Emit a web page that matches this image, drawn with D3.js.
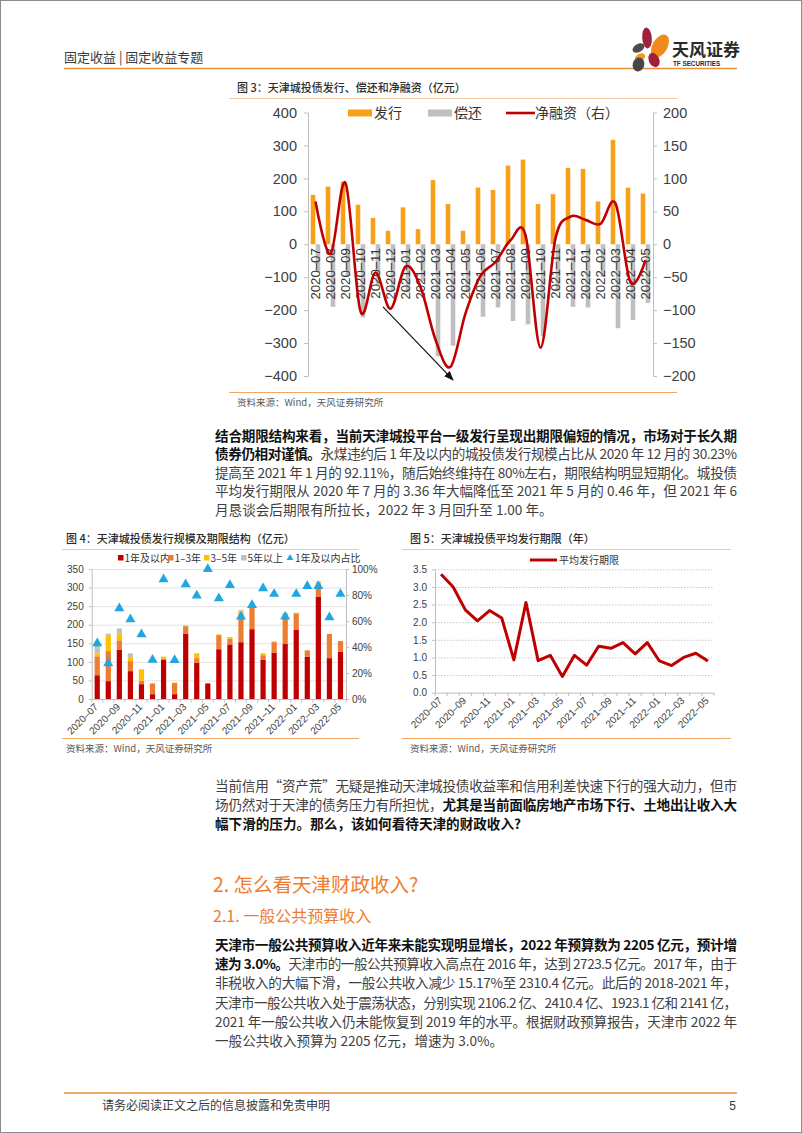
<!DOCTYPE html>
<html><head><meta charset="utf-8">
<script src="https://cdn.jsdelivr.net/npm/d3@7"></script>
<style>
html,body{margin:0;padding:0;background:#fff;}
svg{display:block;}
</style></head><body>
<svg id="page" width="802" height="1133"></svg>
<script>
// ---------------- DATA ----------------
const months = ["2020-07","2020-08","2020-09","2020-10","2020-11","2020-12","2021-01","2021-02","2021-03","2021-04","2021-05","2021-06","2021-07","2021-08","2021-09","2021-10","2021-11","2021-12","2022-01","2022-02","2022-03","2022-04","2022-05"];
// Fig 3 (亿元)
const issuance   = [150,175,190,120,80,41,112,46,195,122,41,172,165,239,257,122,152,232,229,130,317,172,154];
const repayment  = [85,190,97,222,123,139,146,111,340,308,146,220,192,233,243,279,143,190,192,99,255,230,178];
const netFinance = [65,-15,93,-102,-43,-98,-34,-65,-145,-186,-105,-48,-27,6,14,-157,9,42,37,31,62,-58,-24];
const fig3LeftTicks  = [-400,-300,-200,-100,0,100,200,300,400];
const fig3RightTicks = [-200,-150,-100,-50,0,50,100,150,200];
// Fig 4 (亿元, %)
const within1y = [64,48,133,75,40,13,105,13,175,98,42,134,147,153,188,105,125,148,187,114,276,110,127];
const y1to3    = [51,81,25,27,9,29,3,30,21,12,0,38,15,76,58,13,28,73,44,17,30,65,29];
const y3to5    = [7,43,18,9,31,1,6,1,2,13,0,2,5,9,8,5,2,8,1,0,8,0,0];
const over5y   = [28,4,14,12,0,0,0,0,0,0,0,0,0,2,3,0,0,3,0,0,2,0,0];
const within1yShare = [42.8,27.4,69.7,61.3,49.7,30.2,92.1,30.0,88.2,79.5,100,77.4,87.7,63.3,72.3,85.1,80.8,63.3,80.8,86.9,86.9,62.8,80.8];
const fig4LeftTicks  = [0,50,100,150,200,250,300,350];
const fig4RightTicks = [0,20,40,60,80,100];
const fig4Keys = ["1年及以内","1–3年","3–5年","5年以上"];
// Fig 5 (年)
const avgTenor = [3.36,3.00,2.35,2.04,2.33,2.12,0.93,2.56,0.91,1.06,0.46,1.06,0.78,1.32,1.26,1.42,1.10,1.42,0.90,0.77,1.00,1.12,0.90];
const fig5Ticks = [0,0.5,1.0,1.5,2.0,2.5,3.0,3.5];

// ---------------- SETUP ----------------
const CJK = '"Noto Sans CJK SC","Liberation Sans",sans-serif';
const LAT = '"Liberation Sans","Noto Sans CJK SC",sans-serif';
const svg = d3.select("#page");
svg.append("rect").attr("width",802).attr("height",1133).attr("fill","#fff");
svg.append("rect").attr("x",0.5).attr("y",0.5).attr("width",801).attr("height",1132)
  .attr("fill","none").attr("stroke","#8c8c8c");
const dash = s => s.replace("-", "–");
const minus = d => d < 0 ? "−" + Math.abs(d) : String(d);

function txt(g, x, y, s, size, fill, opts={}) {
  return g.append("text").attr("x",x).attr("y",y).attr("dy","0.36em")
    .attr("font-family", opts.font || CJK).attr("font-size", size)
    .attr("font-weight", opts.weight || 400).attr("fill", fill)
    .attr("text-anchor", opts.anchor || "start").text(s);
}
function styleAxis(sel, size, fill) {
  sel.select(".domain").attr("stroke","#bfbfbf");
  sel.selectAll(".tick line").attr("stroke","#bfbfbf");
  sel.selectAll(".tick text").attr("font-size",size).attr("fill",fill).attr("font-family",LAT);
}
function para(lines, x, y0, lh, width) {
  lines.forEach((segs, i) => {
    const t = svg.append("text").attr("x",x).attr("y",y0 + i*lh).attr("dy","0.36em")
      .attr("font-family",CJK).attr("font-size",13.6);
    let n = 0;
    segs.forEach(([s,b]) => {
      n += s.length;
      t.append("tspan").text(s).attr("font-weight", b ? 700 : 400).attr("fill", b ? "#111" : "#3f3f3f");
    });
    if (i < lines.length - 1) {
      const w = t.node().getComputedTextLength();
      t.attr("letter-spacing", (width - w) / (n - 1));
    }
  });
}

// ---------------- HEADER / FOOTER ----------------
txt(svg, 64, 57, "固定收益 | 固定收益专题", 13, "#3a3a3a");
svg.append("line").attr("x1",64).attr("x2",737).attr("y1",68.5).attr("y2",68.5).attr("stroke","#e8923a").attr("stroke-width",1.6);
const logo = svg.append("g");
[[647,38,4.8,10.5,-5,"#a3203a"],[660,46,7.5,12.5,30,"#f08a1c"],[638.5,48,6.5,4,-30,"#4d4d4d"],
 [640,57.5,5.5,3.8,-30,"#f39a1e"],[638.5,64.5,5.8,7,15,"#464646"],[654,60,5.2,7.5,-25,"#a3203a"]]
 .forEach(([cx,cy,rx,ry,r,c]) => logo.append("ellipse").attr("cx",0).attr("cy",0).attr("rx",rx).attr("ry",ry)
   .attr("transform",`translate(${cx},${cy}) rotate(${r})`).attr("fill",c));
txt(svg, 672, 50, "天风证券", 17, "#2b2b2b", {weight:700});
txt(svg, 673, 63.5, "TF SECURITIES", 6.3, "#2b2b2b", {font:LAT, weight:700});
svg.append("line").attr("x1",64).attr("x2",737).attr("y1",1093).attr("y2",1093).attr("stroke","#e8923a").attr("stroke-width",1.6);
txt(svg, 102, 1106, "请务必阅读正文之后的信息披露和免责申明", 12, "#3a3a3a");
txt(svg, 736, 1106, "5", 12, "#3a3a3a", {anchor:"end", font:LAT});

// ---------------- FIG 3 ----------------
const g3 = svg.append("g");
txt(g3, 237, 88, "图 3：天津城投债发行、偿还和净融资（亿元）", 11, "#2b2b2b", {weight:500});
g3.append("line").attr("x1",229).attr("x2",677).attr("y1",98.5).attr("y2",98.5).attr("stroke","#f5c79c");
g3.append("line").attr("x1",229).attr("x2",677).attr("y1",392.5).attr("y2",392.5).attr("stroke","#f2a766");
txt(g3, 237, 403, "资料来源：Wind，天风证券研究所", 9.5, "#5a5a5a");

const x3 = d3.scaleBand().domain(months).range([308,653]);
const y3 = d3.scaleLinear().domain([-400,400]).range([376,112.5]);
const y3r = d3.scaleLinear().domain([-200,200]).range([376,112.5]);
const c3 = m => x3(m) + x3.bandwidth()/2;
const bw3 = 4.6;
g3.selectAll(".iss").data(months).join("rect").attr("class","iss")
  .attr("x", m => c3(m) - bw3 - 0.2).attr("width", bw3)
  .attr("y", (m,i) => y3(issuance[i])).attr("height", (m,i) => y3(0) - y3(issuance[i]))
  .attr("fill","#f7a11a");
g3.selectAll(".rep").data(months).join("rect").attr("class","rep")
  .attr("x", m => c3(m) + 0.2).attr("width", bw3)
  .attr("y", y3(0)).attr("height", (m,i) => y3(-repayment[i]) - y3(0))
  .attr("fill","#bfbfbf");
const axL3 = g3.append("g").attr("transform","translate(308,0)")
  .call(d3.axisLeft(y3).tickValues(fig3LeftTicks).tickSize(4).tickSizeOuter(0).tickPadding(7).tickFormat(minus));
styleAxis(axL3, 14.5, "#404040");
const axR3 = g3.append("g").attr("transform","translate(653,0)")
  .call(d3.axisRight(y3r).tickValues(fig3RightTicks).tickSize(4).tickSizeOuter(0).tickPadding(6).tickFormat(minus));
styleAxis(axR3, 14.5, "#404040");
// category labels
g3.selectAll(".cat").data(months).join("text").attr("class","cat")
  .attr("transform", m => `translate(${c3(m)},${y3(0)+4}) rotate(-90)`)
  .attr("text-anchor","end").attr("dy","0.36em")
  .attr("font-family",LAT).attr("font-size",13.2).attr("fill","#333").text(dash);
// net financing line
g3.append("path").datum(netFinance)
  .attr("d", d3.line().x((d,i) => c3(months[i])).y(d => y3r(d)).curve(d3.curveCardinal.tension(0)))
  .attr("fill","none").attr("stroke","#c00000").attr("stroke-width",2.6);
// arrow annotation
const defs = svg.append("defs");
defs.append("marker").attr("id","arr").attr("viewBox","0 0 10 10").attr("refX",9).attr("refY",5)
  .attr("markerWidth",8).attr("markerHeight",8).attr("orient","auto-start-reverse")
  .append("path").attr("d","M0,1 L10,5 L0,9 z").attr("fill","#111");
g3.append("line").attr("x1", c3("2020-11") + 7.5).attr("y1", y3(-190))
  .attr("x2", c3("2021-04") + 2.5).attr("y2", y3(-412))
  .attr("stroke","#111").attr("stroke-width",1.2).attr("marker-end","url(#arr)");
// legend
const lg3 = g3.append("g");
lg3.append("rect").attr("x",348).attr("y",109.5).attr("width",24).attr("height",7).attr("fill","#f7a11a");
txt(lg3, 374, 113, "发行", 14, "#333");
lg3.append("rect").attr("x",428).attr("y",109.5).attr("width",24).attr("height",7).attr("fill","#bfbfbf");
txt(lg3, 454, 113, "偿还", 14, "#333");
lg3.append("line").attr("x1",506).attr("x2",535).attr("y1",113).attr("y2",113).attr("stroke","#c00000").attr("stroke-width",2.6);
txt(lg3, 535, 113, "净融资（右）", 14, "#333");

// ---------------- PARAGRAPH 1 ----------------
para([
 [["结合期限结构来看，当前天津城投平台一级发行呈现出期限偏短的情况，市场对于长久期",1]],
 [["债券仍相对谨慎。",1],["永煤违约后 1 年及以内的城投债发行规模占比从 2020 年 12 月的 30.23%",0]],
 [["提高至 2021 年 1 月的 92.11%，随后始终维持在 80%左右，期限结构明显短期化。城投债",0]],
 [["平均发行期限从 2020 年 7 月的 3.36 年大幅降低至 2021 年 5 月的 0.46 年，但 2021 年 6",0]],
 [["月恳谈会后期限有所拉长，2022 年 3 月回升至 1.00 年。",0]]
], 215, 436, 18.5, 522);

// ---------------- FIG 4 ----------------
const g4 = svg.append("g");
txt(g4, 66, 539, "图 4：天津城投债发行规模及期限结构（亿元）", 11, "#2b2b2b", {weight:500});
g4.append("line").attr("x1",62).attr("x2",359).attr("y1",549.5).attr("y2",549.5).attr("stroke","#f5c79c");
g4.append("line").attr("x1",62).attr("x2",359).attr("y1",738.5).attr("y2",738.5).attr("stroke","#f2a766");
txt(g4, 66, 749, "资料来源：Wind，天风证券研究所", 9.5, "#5a5a5a");

const x4 = d3.scaleBand().domain(months).range([91.7,346]);
const y4 = d3.scaleLinear().domain([0,350]).range([699,569]);
const y4r = d3.scaleLinear().domain([0,100]).range([699,569]);
const c4 = m => x4(m) + x4.bandwidth()/2;
// grid
const grid4 = g4.append("g").attr("transform","translate(91.7,0)")
  .call(d3.axisLeft(y4).tickValues(fig4LeftTicks.slice(1)).tickSize(-(346-91.7)).tickFormat(""));
grid4.select(".domain").remove();
grid4.selectAll("line").attr("stroke","#e3e3e3");
const rows4 = months.map((m,i) => ({m, [fig4Keys[0]]:within1y[i], [fig4Keys[1]]:y1to3[i], [fig4Keys[2]]:y3to5[i], [fig4Keys[3]]:over5y[i]}));
const stack4 = d3.stack().keys(fig4Keys)(rows4);
const col4 = d3.scaleOrdinal().domain(fig4Keys).range(["#c00000","#ed7d31","#ffc000","#bfbfbf"]);
const bw4 = 5.2;
g4.selectAll(".layer").data(stack4).join("g").attr("fill", d => col4(d.key))
  .selectAll("rect").data(d => d).join("rect")
  .attr("x", d => c4(d.data.m) - bw4/2).attr("width", bw4)
  .attr("y", d => y4(d[1])).attr("height", d => y4(d[0]) - y4(d[1]));
const axL4 = g4.append("g").attr("transform","translate(91.7,0)")
  .call(d3.axisLeft(y4).tickValues(fig4LeftTicks).tickSize(3).tickSizeOuter(0).tickPadding(5));
styleAxis(axL4, 10, "#404040");
const axR4 = g4.append("g").attr("transform","translate(346,0)")
  .call(d3.axisRight(y4r).tickValues(fig4RightTicks).tickSize(3).tickSizeOuter(0).tickPadding(3).tickFormat(d => d + "%"));
styleAxis(axR4, 10, "#404040");
const axB4 = g4.append("g").attr("transform","translate(0,699)")
  .call(d3.axisBottom(x4).tickValues(months.filter((m,i) => i % 2 === 0)).tickSize(0).tickSizeOuter(0).tickFormat(dash));
styleAxis(axB4, 10, "#404040");
axB4.selectAll(".tick text").attr("x",0).attr("y",0).attr("dy","0.36em").attr("text-anchor","end")
  .attr("transform","translate(-1,6) rotate(-45)");
g4.selectAll(".bt").data(months.concat(["_end"])).join("line").attr("class","bt")
  .attr("x1", (m,i) => x4.range()[0] + i*x4.step()).attr("x2", (m,i) => x4.range()[0] + i*x4.step())
  .attr("y1",699).attr("y2",702.5).attr("stroke","#bfbfbf");
g4.selectAll(".tri").data(within1yShare).join("path").attr("class","tri")
  .attr("d", d3.symbol(d3.symbolTriangle).size(44))
  .attr("transform", (d,i) => `translate(${c4(months[i])},${y4r(d)})`).attr("fill","#1ea7e0");
// legend
const lg4 = g4.append("g");
const lg4items = [[118,fig4Keys[0]],[168,fig4Keys[1]],[204,fig4Keys[2]],[241,fig4Keys[3]]];
lg4items.forEach(([x,k]) => {
  lg4.append("rect").attr("x",x).attr("y",555).attr("width",5.5).attr("height",5.5).attr("fill",col4(k));
  txt(lg4, x + 6.5, 558, k, 10, "#333");
});
lg4.append("path").attr("d", d3.symbol(d3.symbolTriangle).size(20)).attr("transform","translate(290,558)").attr("fill","#1ea7e0");
txt(lg4, 295, 558, "1年及以内占比", 10, "#333");

// ---------------- FIG 5 ----------------
const g5 = svg.append("g");
txt(g5, 410, 539, "图 5：天津城投债平均发行期限（年）", 11, "#2b2b2b", {weight:500});
g5.append("line").attr("x1",402).attr("x2",731).attr("y1",549.5).attr("y2",549.5).attr("stroke","#f5c79c");
g5.append("line").attr("x1",402).attr("x2",731).attr("y1",738.5).attr("y2",738.5).attr("stroke","#f2a766");
txt(g5, 410, 748.5, "资料来源：Wind，天风证券研究所", 9.5, "#5a5a5a");

const x5 = d3.scaleBand().domain(months).range([435,714]);
const y5 = d3.scaleLinear().domain([0,3.5]).range([692.7,569.3]);
const c5 = m => x5(m) + x5.bandwidth()/2;
const grid5 = g5.append("g").attr("transform","translate(435,0)")
  .call(d3.axisLeft(y5).tickValues(fig5Ticks.slice(1)).tickSize(-(714-435)).tickFormat(""));
grid5.select(".domain").remove();
grid5.selectAll("line").attr("stroke","#c8c8c8").attr("stroke-dasharray","1.5,1.5");
const axL5 = g5.append("g").attr("transform","translate(435,0)")
  .call(d3.axisLeft(y5).tickValues(fig5Ticks).tickSize(3).tickSizeOuter(0).tickPadding(5).tickFormat(d3.format(".1f")));
styleAxis(axL5, 10, "#404040");
const axB5 = g5.append("g").attr("transform","translate(0,692.7)")
  .call(d3.axisBottom(x5).tickValues(months.filter((m,i) => i % 2 === 0)).tickSize(0).tickSizeOuter(0).tickFormat(dash));
styleAxis(axB5, 10, "#404040");
axB5.selectAll(".tick text").attr("x",0).attr("y",0).attr("dy","0.36em").attr("text-anchor","end")
  .attr("transform","translate(-1,6) rotate(-45)");
g5.selectAll(".bt").data(months.concat(["_end"])).join("line").attr("class","bt")
  .attr("x1", (m,i) => x5.range()[0] + i*x5.step()).attr("x2", (m,i) => x5.range()[0] + i*x5.step())
  .attr("y1",692.7).attr("y2",696).attr("stroke","#bfbfbf");
g5.append("path").datum(avgTenor)
  .attr("d", d3.line().x((d,i) => c5(months[i])).y(d => y5(d)))
  .attr("fill","none").attr("stroke","#c00000").attr("stroke-width",3).attr("stroke-linejoin","round");
g5.append("line").attr("x1",530).attr("x2",557).attr("y1",560).attr("y2",560).attr("stroke","#c00000").attr("stroke-width",3);
txt(g5, 559, 560, "平均发行期限", 10, "#333");

// ---------------- PARAGRAPH 2 & SECTION ----------------
para([
 [["当前信用“资产荒”无疑是推动天津城投债收益率和信用利差快速下行的强大动力，但市",0]],
 [["场仍然对于天津的债务压力有所担忧，",0],["尤其是当前面临房地产市场下行、土地出让收入大",1]],
 [["幅下滑的压力。那么，该如何看待天津的财政收入?",1]]
], 215, 786, 19.3, 522);
txt(svg, 213, 885, "2. 怎么看天津财政收入?", 19.5, "#ee7d2f");
txt(svg, 213, 916.5, "2.1. 一般公共预算收入", 16, "#ee7d2f");
para([
 [["天津市一般公共预算收入近年来未能实现明显增长，2022 年预算数为 2205 亿元，预计增",1]],
 [["速为 3.0%。",1],["天津市的一般公共预算收入高点在 2016 年，达到 2723.5 亿元。2017 年，由于",0]],
 [["非税收入的大幅下滑，一般公共收入减少 15.17%至 2310.4 亿元。此后的 2018-2021 年，",0]],
 [["天津市一般公共收入处于震荡状态，分别实现 2106.2 亿、2410.4 亿、1923.1 亿和 2141 亿，",0]],
 [["2021 年一般公共收入仍未能恢复到 2019 年的水平。根据财政预算报告，天津市 2022 年",0]],
 [["一般公共收入预算为 2205 亿元，增速为 3.0%。",0]]
], 215, 945, 19.3, 522);
</script>
</body></html>
